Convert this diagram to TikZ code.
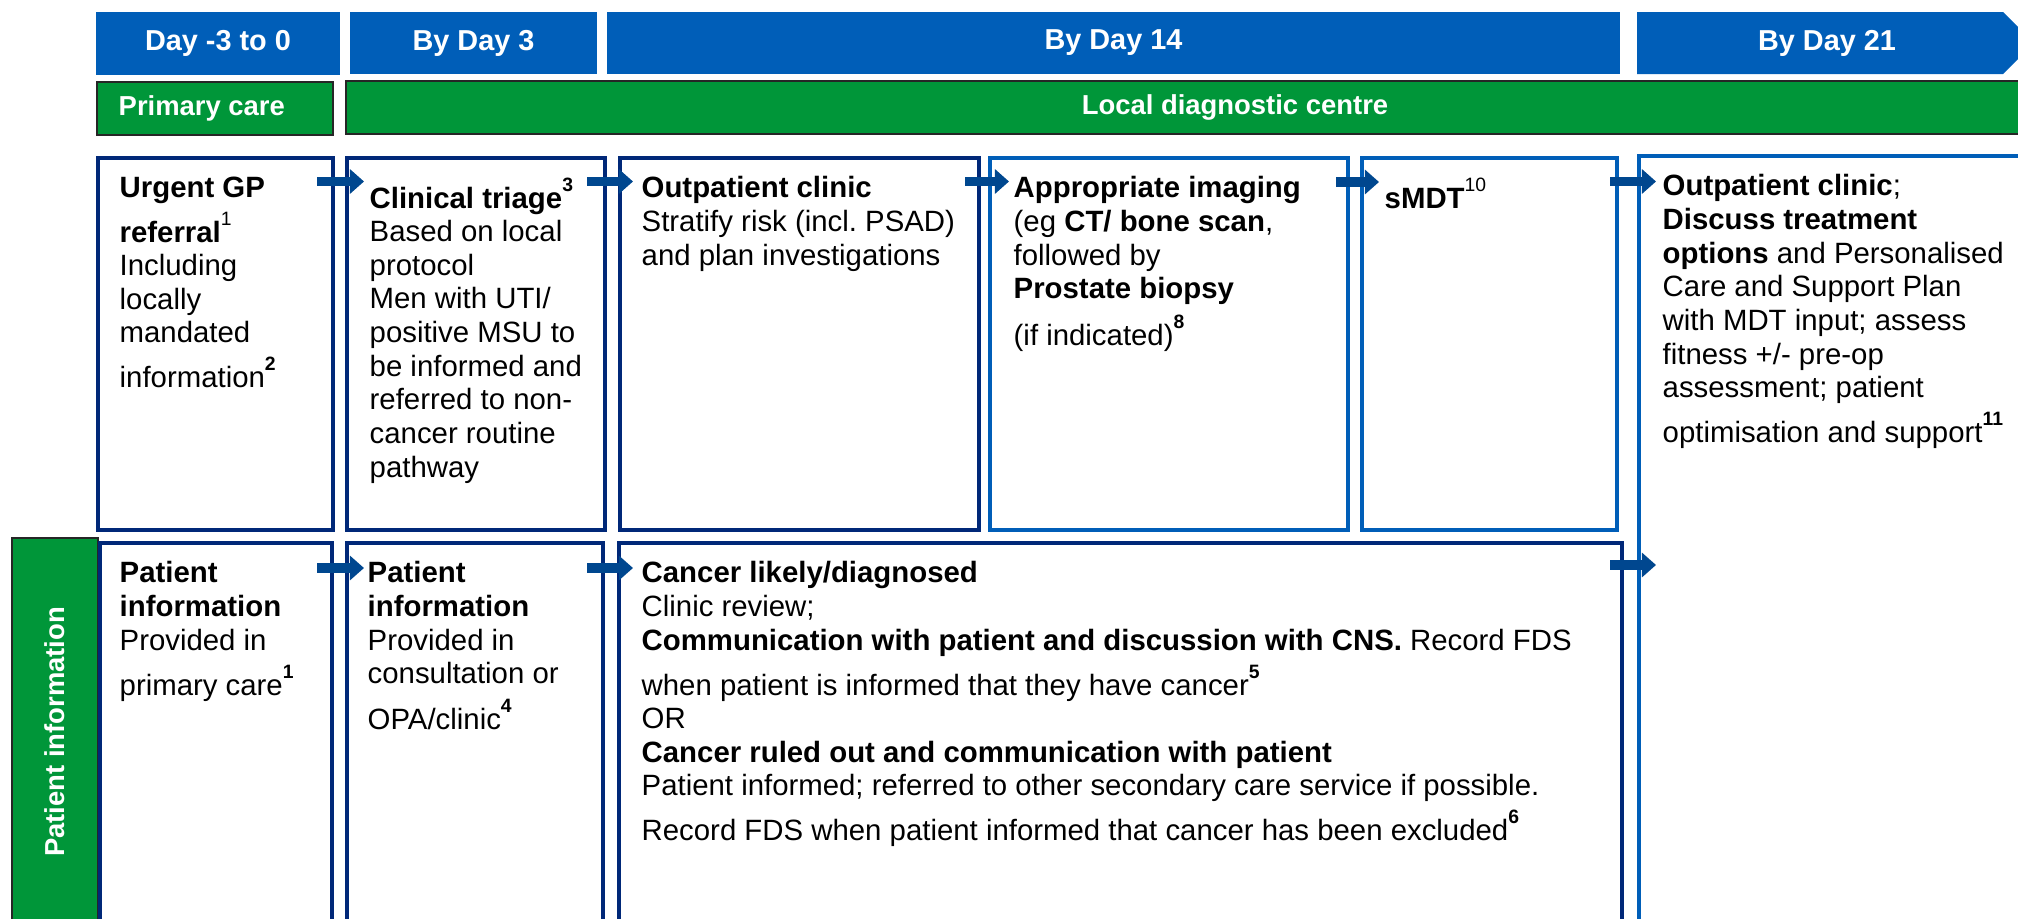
\documentclass[tikz,border=0pt]{standalone}
\usepackage{fontspec}
\setmainfont{Liberation Sans}
\usepackage{tikz}
\usetikzlibrary{fit}
\usetikzlibrary{calc}
\usetikzlibrary{arrows.meta}
\usepackage{color}
\definecolor{nhsblue}{RGB}{0, 94, 184}
\definecolor{nhsnavy}{RGB}{0, 40, 120}
\definecolor{nhsgreen}{RGB}{0, 150, 57}
\definecolor{arrowblue}{RGB}{0, 71, 143}
\definecolor{bandline}{RGB}{38, 38, 38}
\frenchspacing
\newcommand{\fnote}[1]{\raisebox{4.8pt}{\fontsize{5.5}{6}\selectfont\bfseries #1}}
\newcommand{\boxfont}{\fontsize{8.35}{9.56}\selectfont\lineskiplimit=-20pt\relax}

\begin{document}
\begin{tikzpicture}[x=0.01cm, y=-0.01cm,
        daybox/.style     = {fill=nhsblue, inner sep=0pt, outer sep=0pt},
        daytext/.style    = {text=white, inner sep=0pt, font=\fontsize{8.2}{9.5}\selectfont\bfseries},
        careband/.style   = {fill=nhsgreen, draw=bandline, line width=0.7pt, inner sep=0pt, outer sep=0pt},
        bandtext/.style   = {text=white, inner sep=0pt, font=\fontsize{7.8}{9}\selectfont\bfseries},
        stagebox/.style   = {draw=nhsnavy, line width=1.15pt, fill=white, inner sep=0pt, outer sep=0pt},
        stageboxlt/.style = {stagebox, draw=nhsblue},
        stagetext/.style  = {anchor=north west, inner sep=0pt, align=left, font=\boxfont},
        flow/.style       = {draw=arrowblue, line width=2.6pt, -{Triangle[length=4pt, width=6.8pt]}}]
            % Frame to keep the page size
            \useasboundingbox (0,0) rectangle (2018,918);
            \clip             (0,0) rectangle (2018,918);
            % Day headers
            \node[daybox, fit={(96,12)  (340,75)}]  (day0)  {};
            \node[daybox, fit={(350,12) (597,74)}]  (day3)  {};
            \node[daybox, fit={(607,12) (1620,74)}] (day14) {};
            \fill[nhsblue] (1637,12) -- (2003,12) -- (2034,43) -- (2003,74) -- (1637,74) -- cycle;
            \node[daytext] (day0txt)  at (day0.center)  {Day -3 to 0};
            \node[daytext] (day3txt)  at (day3.center)  {By Day 3};
            \node[daytext] (day14txt) at (day14.center) {By Day 14};
            \node[daytext] (day21txt) at (1827,43)      {By Day 21};
            % Care settings
            \node[careband, fit={(97,82)  (333,135)}]  (primary) {};
            \node[bandtext, anchor=west] (primarytxt) at ($(primary.west)+(21,0)$) {Primary care};
            \node[careband, fit={(346,81) (2124,134)}] (ldc) {};
            \node[bandtext] (ldctxt) at (ldc.center) {Local diagnostic centre};
            % Referral, triage and diagnostics
            \node[stagebox,   fit={(98,158)   (333,530)}]  (gp)      {};
            \node[stagebox,   fit={(347,158)  (605,530)}]  (triage)  {};
            \node[stagebox,   fit={(620,158)  (979,530)}]  (opd)     {};
            \node[stageboxlt, fit={(990,158)  (1348,530)}] (imaging) {};
            \node[stageboxlt, fit={(1362,158) (1617,530)}] (smdt)    {};
            \node[stageboxlt, fit={(1639,156) (2040,960)}] (plan)    {};
            % Patient information row
            \node[careband,   fit={(12,538)  (98,926)}]    (pinfo)   {};
            \node[bandtext, rotate=90] (pinfotxt) at (pinfo.center) {Patient information};
            \node[stagebox,   fit={(100,543) (332,960)}]   (pinfoa)  {};
            \node[stagebox,   fit={(347,543) (603,960)}]   (pinfob)  {};
            \node[stagebox,   fit={(619,543) (1622,960)}]  (outcome) {};

            % Box texts
            \node[stagetext] (gptxt) at (119,176)
                {\textbf{Urgent GP}\\[3.2pt] \textbf{referral}\fnote{\mdseries 1}\\ Including\\ locally\\ mandated\\[3pt] information\fnote{2}};
            \node[stagetext] (triagetxt) at (369,177)
                {\textbf{Clinical triage}\fnote{3}\\ Based on local\\ protocol\\ Men with UTI/\\ positive MSU to\\ be informed and\\ referred to non-\\ cancer routine\\ pathway};
            \node[stagetext] (opdtxt) at (641,176)
                {\textbf{Outpatient clinic}\\ Stratify risk (incl. PSAD)\\ and plan investigations};
            \node[stagetext] (imagingtxt) at (1013,176)
                {\textbf{Appropriate imaging}\\ (eg \textbf{CT/ bone scan},\\ followed by\\ \textbf{Prostate biopsy}\\[3.8pt] (if indicated)\fnote{8}};
            \node[stagetext] (smdttxt) at (1384,177)
                {\textbf{sMDT}\fnote{\mdseries 10}};
            \node[stagetext] (plantxt) at (1662,174)
                {\textbf{Outpatient clinic};\\ \textbf{Discuss treatment}\\ \textbf{options} and Personalised\\ Care and Support Plan\\ with MDT input; assess\\ fitness +/- pre-op\\ assessment; patient\\[3.2pt] optimisation and support\fnote{11}};
            \node[stagetext] (pinfoatxt) at (119,561)
                {\textbf{Patient}\\ \textbf{information}\\ Provided in\\[3.2pt] primary care\fnote{1}};
            \node[stagetext] (pinfobtxt) at (367,561)
                {\textbf{Patient}\\ \textbf{information}\\ Provided in\\ consultation or\\[3.5pt] OPA/clinic\fnote{4}};
            \node[stagetext] (outcometxt) at (641,561)
                {\textbf{Cancer likely/diagnosed}\\ Clinic review;\\ \textbf{Communication with patient and discussion with CNS.} Record FDS\\[3.2pt]
                 when patient is informed that they have cancer\fnote{5}\\ OR\\ \textbf{Cancer ruled out and communication with patient}\\
                 Patient informed; referred to other secondary care service if possible.\\[3.2pt]
                 Record FDS when patient informed that cancer has been excluded\fnote{6}};

            % Flow arrows, top row
            \draw[flow] ($(gp.north east)+(-16,23.5)$)      -- ($(triage.north west)+(17,23.5)$);
            \draw[flow] ($(triage.north east)+(-18,23.5)$)  -- ($(opd.north west)+(13,23.5)$);
            \draw[flow] ($(opd.north east)+(-14,23.5)$)     -- ($(imaging.north west)+(19,23.5)$);
            \draw[flow] ($(imaging.north east)+(-12,24)$)   -- ($(smdt.north west)+(17,24)$);
            \draw[flow] ($(smdt.north east)+(-7,23.5)$)     -- ($(plan.north west)+(17,25.5)$);
            % Flow arrows, patient information row
            \draw[flow] ($(pinfoa.north east)+(-15,25)$)    -- ($(pinfob.north west)+(17,25)$);
            \draw[flow] ($(pinfob.north east)+(-16,25)$)    -- ($(outcome.north west)+(14,25)$);
            \draw[flow] ($(outcome.north east)+(-12,22)$)   -- ($(plan.north west)+(17,409)$);
\end{tikzpicture}
\end{document}
